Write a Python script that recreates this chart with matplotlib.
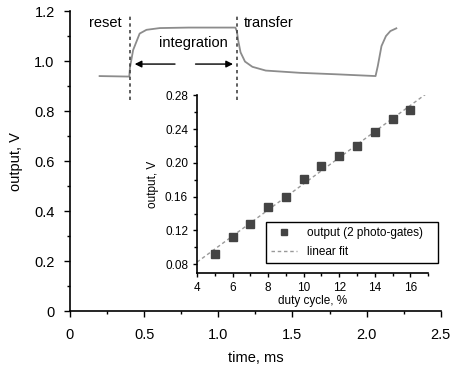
import numpy as np
import matplotlib.pyplot as plt
from matplotlib.ticker import MultipleLocator

# hovedkurve: utgangsspenning over tid
tid = [0.20, 0.40, 0.405, 0.426, 0.47, 0.516, 0.606, 0.80, 1.00, 1.115,
       1.125, 1.135, 1.15, 1.18, 1.23, 1.32, 1.55, 1.80, 2.06, 2.075, 2.10,
       2.13, 2.16, 2.20]
spenning = [0.940, 0.938, 0.975, 1.044, 1.110, 1.125, 1.132, 1.134, 1.134, 1.134,
            1.120, 1.080, 1.035, 0.998, 0.977, 0.962, 0.953, 0.947, 0.940, 0.980,
            1.060, 1.100, 1.120, 1.131]

# tidspunkt for reset og transfer
t_reset = 0.405
t_transfer = 1.125

# innfelt: utgang mot duty cycle
duty = [5, 6, 7, 8, 9, 10, 11, 12, 13, 14, 15, 16]
utgang = [0.092, 0.112, 0.128, 0.148, 0.159, 0.181, 0.196, 0.208, 0.220,
          0.236, 0.252, 0.263]

plt.rcParams['font.family'] = ['Liberation Sans', 'DejaVu Sans']

fig = plt.figure(figsize=(4.54, 3.69), dpi=100)
ax = fig.add_axes([0.154, 0.157, 0.817, 0.813])

ax.plot(tid, spenning, color='#8c8c8c', lw=1.3)
for t in (t_reset, t_transfer):
    ax.plot([t, t], [0.845, 1.185], color='#444444', lw=1.2, ls=(0, (2, 2)))

# piler for integrasjonstid
ax.annotate('', xy=(0.418, 0.988), xytext=(0.727, 0.988),
            arrowprops=dict(arrowstyle='-|>', color='black', lw=1.0,
                            mutation_scale=10))
ax.annotate('', xy=(1.118, 0.988), xytext=(0.828, 0.988),
            arrowprops=dict(arrowstyle='-|>', color='black', lw=1.0,
                            mutation_scale=10))

ax.text(0.237, 1.153, 'reset', ha='center', va='center', fontsize=10.5)
ax.text(1.17, 1.153, 'transfer', ha='left', va='center', fontsize=10.5)
ax.text(0.83, 1.071, 'integration', ha='center', va='center', fontsize=10.5)

ax.set_xlim(0, 2.5)
ax.set_ylim(0, 1.2)
ax.xaxis.set_minor_locator(MultipleLocator(0.25))
ax.yaxis.set_minor_locator(MultipleLocator(0.1))
ax.set_xticks([0, 0.5, 1.0, 1.5, 2.0, 2.5])
ax.set_xticklabels(['0', '0.5', '1.0', '1.5', '2.0', '2.5'])
ax.set_yticks([0, 0.2, 0.4, 0.6, 0.8, 1.0, 1.2])
ax.set_yticklabels(['0', '0.2', '0.4', '0.6', '0.8', '1.0', '1.2'])
ax.tick_params(which='major', direction='out', length=4, width=1, labelsize=10.5)
ax.tick_params(axis='x', which='major', pad=8)
ax.tick_params(axis='y', which='major', pad=7)
ax.tick_params(which='minor', direction='out', length=2.5, width=1)
for s in ('top', 'right'):
    ax.spines[s].set_visible(False)
for s in ('left', 'bottom'):
    ax.spines[s].set_linewidth(1.2)
ax.set_xlabel('time, ms', fontsize=10.5, labelpad=7)
ax.set_ylabel('output, V', fontsize=10.5, labelpad=8)

# innfelt graf
ins = fig.add_axes([0.434, 0.261, 0.509, 0.481])
a, b = np.polyfit(duty, utgang, 1)
xf = np.array([4, 17])
ins.plot(xf, a * xf + b, color='#999999', lw=1.0, ls=(0, (2.5, 2)),
         label='linear fit')
ins.plot(duty, utgang, ls='none', marker='s', ms=5.5, color='#444444',
         label='output (2 photo-gates)')
ins.set_xlim(4, 17)
ins.set_ylim(0.07, 0.28)
ins.patch.set_alpha(0)
ins.xaxis.set_major_locator(MultipleLocator(2))
ins.xaxis.set_minor_locator(MultipleLocator(1))
ins.set_yticks([0.08, 0.12, 0.16, 0.20, 0.24, 0.28])
ins.yaxis.set_minor_locator(MultipleLocator(0.02))
ins.tick_params(which='major', direction='out', length=3, width=1, labelsize=8.5)
ins.tick_params(which='minor', direction='out', length=2, width=1)
for s in ('top', 'right'):
    ins.spines[s].set_visible(False)
for s in ('left', 'bottom'):
    ins.spines[s].set_linewidth(1.2)
ins.set_xlabel('duty cycle, %', fontsize=8.5, labelpad=1)
ins.set_ylabel('output, V', fontsize=8.5, labelpad=4)

h, l = ins.get_legend_handles_labels()
leg = ins.legend(h[::-1], l[::-1], loc='lower left',
                 bbox_to_anchor=(0.30, 0.055, 0.743, 0.26),
                 mode='expand', fontsize=8.5, fancybox=False, framealpha=1,
                 edgecolor='black', handlelength=2.2, borderaxespad=0,
                 labelspacing=0.6, markerscale=0.7)
leg.get_frame().set_linewidth(1.0)

fig.savefig('out.png', dpi=100)
